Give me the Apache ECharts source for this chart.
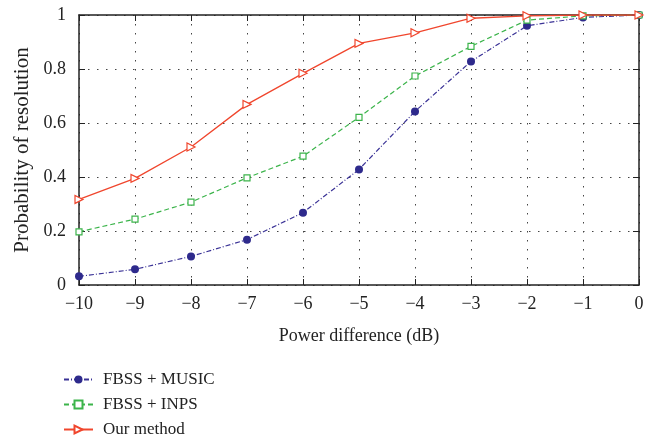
<!DOCTYPE html>
<html>
<head>
<meta charset="utf-8">
<script src="https://cdn.jsdelivr.net/npm/echarts@6/dist/echarts.min.js"></script>
<style>
html, body { margin: 0; padding: 0; background: #fff; }
#main { width: 656px; height: 443px; }
</style>
</head>
<body>
<div id="main"></div>
<script>
// data
var powerDiff = [-10, -9, -8, -7, -6, -5, -4, -3, -2, -1, 0];
var music = [0.032, 0.058, 0.106, 0.168, 0.268, 0.428, 0.643, 0.828, 0.960, 0.991, 1.0];
var inps  = [0.197, 0.244, 0.307, 0.397, 0.477, 0.621, 0.774, 0.884, 0.981, 0.997, 1.0];
var ours  = [0.317, 0.395, 0.511, 0.669, 0.784, 0.895, 0.934, 0.988, 0.997, 1.0, 1.0];
var seriesNames = ['FBSS + MUSIC', 'FBSS + INPS', 'Our method'];

function pairs(ys) {
    return powerDiff.map(function (x, i) { return [x, ys[i]]; });
}

var font = 'Liberation Serif';
var axisColor = '#222';
var gridLine = { show: true, lineStyle: { color: '#444', type: [1.5, 7.5] } };

var chart = echarts.init(document.getElementById('main'));

var option = {
    backgroundColor: '#fff',
    textStyle: { fontFamily: font },
    animation: false,
    grid: { left: 79, right: 17, top: 15, bottom: 158 },
    legend: {
        orient: 'vertical',
        left: 58,
        top: 366,
        itemWidth: 29,
        itemHeight: 10,
        itemGap: 8,
        textStyle: { fontFamily: font, fontSize: 17, color: '#222', padding: [0, 0, 0, 5] },
        data: seriesNames
    },
    xAxis: [
        {
            type: 'value', min: -10, max: 0, interval: 1,
            name: 'Power difference (dB)', nameLocation: 'middle', nameGap: 42,
            nameTextStyle: { fontFamily: font, fontSize: 18, color: '#222' },
            axisLine: { onZero: false, lineStyle: { color: axisColor, width: 1.5 } },
            axisTick: { inside: true, length: 6, lineStyle: { color: axisColor } },
            axisLabel: {
                fontFamily: font, fontSize: 18, color: '#222', margin: 10,
                formatter: function (v) { return v < 0 ? '\u2212' + (-v) : String(v); }
            },
            splitLine: gridLine
        },
        {
            type: 'value', min: -10, max: 0, interval: 1, position: 'top',
            axisLine: { onZero: false, lineStyle: { color: axisColor, width: 1.5 } },
            axisTick: { inside: true, length: 6, lineStyle: { color: axisColor } },
            axisLabel: { show: false },
            splitLine: { show: false }
        }
    ],
    yAxis: [
        {
            type: 'value', min: 0, max: 1, interval: 0.2,
            name: 'Probability of resolution', nameLocation: 'middle', nameGap: 44,
            nameTextStyle: { fontFamily: font, fontSize: 21, color: '#222' },
            axisLine: { show: true, onZero: false, lineStyle: { color: axisColor, width: 1.5 } },
            axisTick: { show: true, inside: true, length: 6, lineStyle: { color: axisColor } },
            axisLabel: { fontFamily: font, fontSize: 18, color: '#222', margin: 13 },
            splitLine: gridLine
        },
        {
            type: 'value', min: 0, max: 1, interval: 0.2, position: 'right',
            axisLine: { show: true, onZero: false, lineStyle: { color: axisColor, width: 1.5 } },
            axisTick: { show: true, inside: true, length: 6, lineStyle: { color: axisColor } },
            axisLabel: { show: false },
            splitLine: { show: false }
        }
    ],
    series: [
        {
            name: seriesNames[0], type: 'line', data: pairs(music),
            symbol: 'circle', symbolSize: 8,
            lineStyle: { color: '#3a3296', width: 1.2, type: [5, 2, 1, 2] },
            itemStyle: { color: '#2e2a8c' }
        },
        {
            name: seriesNames[1], type: 'line', data: pairs(inps),
            symbol: 'rect', symbolSize: 6,
            lineStyle: { color: '#3cb44b', width: 1.2, type: [5, 3] },
            itemStyle: { color: '#fff', borderColor: '#3cb44b', borderWidth: 1.2 }
        },
        {
            name: seriesNames[2], type: 'line', data: pairs(ours),
            symbol: 'triangle', symbolSize: 8, symbolRotate: -90,
            lineStyle: { color: '#f0462d', width: 1.3 },
            itemStyle: { color: '#fff', borderColor: '#f0462d', borderWidth: 1.2 }
        }
    ]
};

chart.setOption(option);
</script>
</body>
</html>
